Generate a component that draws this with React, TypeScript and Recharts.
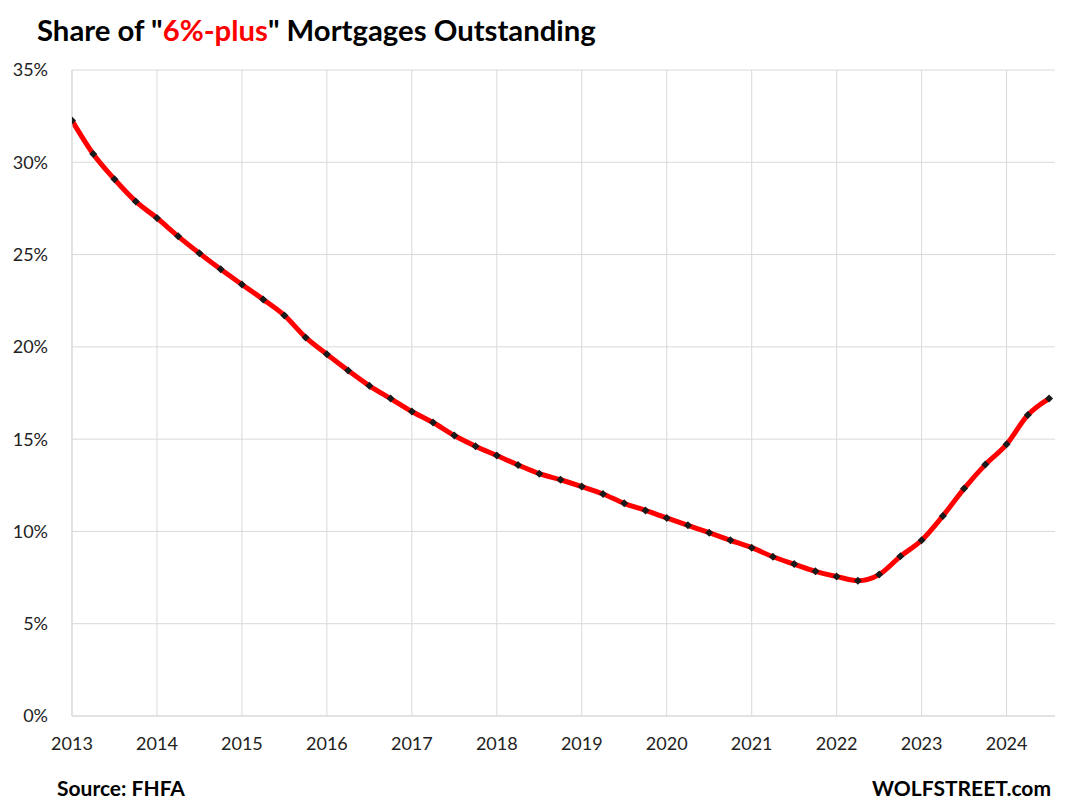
import { LineChart, Line, XAxis, YAxis, CartesianGrid, ReferenceLine } from 'recharts'

// quarterly, 2013 Q1 .. 2024 Q3
const QUARTERS = [
  2013, 2013.25, 2013.5, 2013.75,
  2014, 2014.25, 2014.5, 2014.75,
  2015, 2015.25, 2015.5, 2015.75,
  2016, 2016.25, 2016.5, 2016.75,
  2017, 2017.25, 2017.5, 2017.75,
  2018, 2018.25, 2018.5, 2018.75,
  2019, 2019.25, 2019.5, 2019.75,
  2020, 2020.25, 2020.5, 2020.75,
  2021, 2021.25, 2021.5, 2021.75,
  2022, 2022.25, 2022.5, 2022.75,
  2023, 2023.25, 2023.5, 2023.75,
  2024, 2024.25, 2024.5,
]

// share of mortgages with rate >= 6%, in percent
const SHARE = [
  32.26, 30.45, 29.08, 27.88,
  26.98, 25.99, 25.07, 24.2,
  23.38, 22.57, 21.7, 20.51,
  19.6, 18.72, 17.89, 17.2,
  16.5, 15.9, 15.2, 14.62,
  14.11, 13.6, 13.13, 12.8,
  12.43, 12.03, 11.52, 11.14,
  10.73, 10.33, 9.93, 9.52,
  9.12, 8.63, 8.23, 7.84,
  7.56, 7.33, 7.66, 8.65,
  9.52, 10.84, 12.32, 13.62,
  14.72, 16.31, 17.2,
]

const YEAR_TICKS = [2013, 2014, 2015, 2016, 2017, 2018, 2019, 2020, 2021, 2022, 2023, 2024]
const PCT_TICKS = [0, 5, 10, 15, 20, 25, 30, 35]

const data = QUARTERS.map((q, i) => ({ q, share: SHARE[i] }))

const FONT = 'Lato, "Open Sans", sans-serif'
const GRID = '#d9d9d9'

const Diamond = (props: any) => {
  const { cx, cy, index } = props
  if (cx == null || cy == null) return null
  const s = 4
  return (
    <polygon
      key={`d${index}`}
      points={`${cx},${cy - s} ${cx + s},${cy} ${cx},${cy + s} ${cx - s},${cy}`}
      fill="#1a1a1a"
    />
  )
}

export default function App() {
  return (
    <div
      style={{
        position: 'absolute',
        left: 0,
        top: 0,
        width: 1067,
        height: 810,
        background: '#fff',
        fontFamily: FONT,
      }}
    >
      <div
        style={{
          position: 'absolute',
          left: 37,
          top: 12,
          fontSize: 29.3,
          fontWeight: 700,
          color: '#000',
          whiteSpace: 'nowrap',
        }}
      >
        Share of "<span style={{ color: '#ff0000' }}>6%-plus</span>" Mortgages Outstanding
      </div>

      <LineChart
        width={1067}
        height={810}
        data={data}
        margin={{ top: 70, right: 12, left: 12, bottom: 54 }}
      >
        <CartesianGrid stroke={GRID} strokeWidth={1} vertical={false} />
        {/* year gridlines only, no border at the right edge */}
        {YEAR_TICKS.map(t => (
          <ReferenceLine key={t} x={t} stroke={GRID} strokeWidth={1} />
        ))}
        <XAxis
          dataKey="q"
          type="number"
          domain={[2013, 2024.57]}
          allowDataOverflow
          ticks={YEAR_TICKS}
          interval={0}
          height={40}
          tickLine={false}
          axisLine={{ stroke: GRID }}
          tickMargin={15}
          tick={{ fill: '#222', fontSize: 18, fontFamily: FONT }}
        />
        <YAxis
          type="number"
          domain={[0, 35]}
          allowDataOverflow
          ticks={PCT_TICKS}
          width={60}
          tickLine={false}
          axisLine={{ stroke: GRID }}
          tickMargin={18}
          tickFormatter={(v: number) => `${v}%`}
          tick={{ fill: '#222', fontSize: 18, fontFamily: FONT }}
        />
        <Line
          type="monotone"
          dataKey="share"
          stroke="#ff0000"
          strokeWidth={5}
          dot={Diamond}
          activeDot={false}
          isAnimationActive={false}
        />
      </LineChart>

      <div
        style={{
          position: 'absolute',
          left: 57,
          top: 775,
          fontSize: 21,
          fontWeight: 700,
          color: '#000',
        }}
      >
        Source: FHFA
      </div>
      <div
        style={{
          position: 'absolute',
          right: 16,
          top: 775,
          fontSize: 21,
          fontWeight: 700,
          color: '#000',
        }}
      >
        WOLFSTREET.com
      </div>
    </div>
  )
}
